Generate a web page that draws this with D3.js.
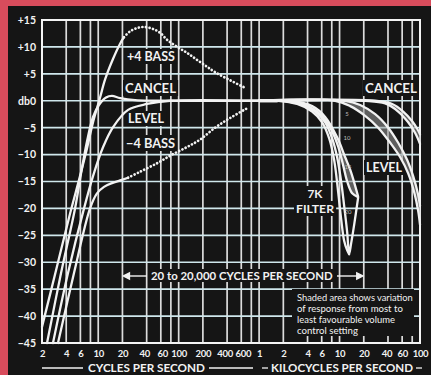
<!DOCTYPE html>
<html><head><meta charset="utf-8">
<script src="https://cdn.jsdelivr.net/npm/d3@7"></script>
<style>html,body{margin:0;padding:0;background:#151515;} svg{display:block}</style>
</head><body><svg id="c" width="431" height="375"></svg>
<script>
// ---------- data ----------
const yTickValues = [-45,-40,-35,-30,-25,-20,-15,-10,-5,0,5,10,15];
const yTickLabels = ["−45","−40","−35","−30","−25","−20","−15","−10","−5","db0","+5","+10","+15"];
const xTickValues = [2,4,6,10,20,40,60,100,200,400,600,1000,2000,4000,6000,10000,20000,40000,60000,100000];
const xTickLabels = ["2","4","6","10","20","40","60","100","200","400","600","1","2","4","6","10","20","40","60","100"];
const gridFreqs = [4,6,8,10,20,40,60,80,100,200,400,600,800,1000,2000,4000,6000,8000,10000,20000,40000,60000,80000];
const gridDb = [-40,-35,-30,-25,-20,-15,-10,-5,0,5,10];

// [frequency Hz, dB]
const plus4BassSolid = [[2,-42],[2.99,-31.5],[4.46,-21],[5.94,-14],[7.26,-8.8],[8.62,-4],[10.5,0.5],[12.2,4],[15.3,7.8],[18.7,10.6],[20.9,11.8]];
const plus4BassDotted = [[20.9,11.8],[24.9,12.9],[30.4,13.5],[36,13.7],[46.7,13.4],[59,12.6],[72,11.3],[96,10.0],[127,8.9],[169,7.6],[226,6.3],[284,5.3],[436,3.8],[670,2.4]];
const cancelLow = [[2.31,-45],[3.45,-32],[5.15,-20],[6.11,-13.5],[7.26,-7.5],[8.62,-3],[10.2,-0.8],[12.5,0.6],[14.8,0.9],[18.7,0.5],[28.7,0.1],[51,0],[1000,0]];
const levelLow = [[2.74,-45],[4.21,-32],[6.66,-20],[8.62,-14],[11.5,-8.6],[15.3,-4.9],[23.5,-1.7],[40.5,-0.6],[78,0],[1000,0]];
const minus4BassSolid = [[3.16,-45],[5.0,-32],[7.91,-20],[9.66,-17.2],[11.8,-16],[14.8,-15.3],[18.7,-14.8],[23.5,-14.3]];
const minus4BassDotted = [[23.5,-14.3],[33,-13.2],[54,-11.6],[83,-10],[127,-8.6],[185,-7.2],[284,-5],[436,-3.2],[709,-1.4]];

const filterNotch = [[1000,0],[1820,0],[3240,-0.6],[4980,-2],[6620,-4],[8090,-7],[9330,-10.5],[10470,-15],[11400,-19.5],[12450,-24.5],[13150,-28.5],[13930,-26.5],[15200,-23],[17020,-18]];
const filterSteep = [[1000,0],[1700,0],[2970,-0.6],[4560,-2],[6080,-4],[7430,-7],[8570,-11],[9620,-17],[10470,-22],[11400,-26],[12450,-27.8],[13150,-28.5]];
const filterB = [[1000,0],[2100,0],[3730,-0.8],[5740,-2.5],[7640,-5],[9620,-8.5],[11090,-12],[12450,-15],[14350,-17.2],[16560,-17.8]];
const filterC = [[1000,0],[2430,0],[4560,-1],[6620,-3],[9330,-6.8],[11750,-10.5],[13550,-12.8],[15630,-15.8],[17020,-17.8]];
const levelHighOuter = [[1000,0],[8810,0],[13550,-1],[20810,-2.8],[30200,-5],[42580,-7.8],[56760,-10.5],[71300,-13.5],[84700,-17],[94980,-20.5],[100000,-23]];
const levelHighInner = [[1000,0],[11750,0],[18030,-0.8],[27720,-2.5],[40240,-5],[53580,-7.8],[69340,-11],[82240,-14],[94980,-17.5],[100000,-19.5]];
const cancelHighA = [[1000,0],[20810,0],[36900,-0.5],[53580,-2],[71300,-4],[87140,-6],[100000,-8]];
const cancelHighB = [[1000,0],[27720,0],[45100,-0.6],[61800,-2],[80000,-3.8],[92260,-5.2],[100000,-6.2]];

// ---------- drawing ----------
const W = 431, H = 375;
const svg = d3.select("#c");
const RED = "#d84c5c", BLACK = "#151515", INK = "#f2f2f2";
const FONT = "Lato, 'Open Sans', sans-serif";

svg.append("rect").attr("width", W).attr("height", H).attr("fill", RED);
svg.append("rect").attr("x", 8).attr("y", 6).attr("width", W - 8).attr("height", H - 6).attr("fill", BLACK);

const x = d3.scaleLog().domain([2, 100000]).range([42, 420]);
const y = d3.scaleLinear().domain([-45, 15]).range([343, 20]);

// grid
const grid = svg.append("g");
grid.selectAll("line.v").data(gridFreqs).join("line")
  .attr("x1", d => x(d)).attr("x2", d => x(d)).attr("y1", y(15)).attr("y2", y(-45))
  .attr("stroke", "#dcdcdc").attr("stroke-width", 1.7);
grid.selectAll("line.h").data(gridDb).join("line")
  .attr("x1", x(2)).attr("x2", x(100000)).attr("y1", d => y(d)).attr("y2", d => y(d))
  .attr("stroke", "#cfe7ec").attr("stroke-width", 1.7);
grid.append("rect").attr("x", x(2)).attr("y", y(15)).attr("width", x(100000) - x(2)).attr("height", y(-45) - y(15))
  .attr("fill", "none").attr("stroke", "#f4f4f4").attr("stroke-width", 2);

const boxes = svg.append("g");
const curves = svg.append("g");
const texts = svg.append("g").attr("font-family", FONT).attr("fill", INK);

const line = d3.line().x(d => x(d[0])).y(d => y(d[1])).curve(d3.curveCatmullRom.alpha(0.5));

// shaded areas
function shade(a, b) {
  const pts = a.concat(b.slice().reverse());
  curves.append("path").attr("d", line(pts) + "Z").attr("fill", "#9a9a9a").attr("fill-opacity", 0.55).attr("stroke", "none");
}
shade(filterB.slice(3), filterC.slice(3));
shade(levelHighOuter.slice(1), levelHighInner.slice(1));
shade(cancelHighA.slice(1), cancelHighB.slice(1));

const solid = [plus4BassSolid, cancelLow, levelLow, minus4BassSolid, filterNotch, filterSteep, filterB, filterC,
  levelHighOuter, levelHighInner, cancelHighA, cancelHighB];
curves.selectAll("path.s").data(solid).join("path").attr("class", "s")
  .attr("d", line).attr("fill", "none").attr("stroke", INK).attr("stroke-width", 2.3).attr("stroke-linecap", "round");
curves.append("path").attr("d", line([[1000,0],[1700,0]])).attr("fill", "none").attr("stroke", INK).attr("stroke-width", 3.4);
curves.selectAll("path.d").data([plus4BassDotted, minus4BassDotted]).join("path").attr("class", "d")
  .attr("d", line).attr("fill", "none").attr("stroke", INK).attr("stroke-width", 2.7)
  .attr("stroke-linecap", "round").attr("stroke-dasharray", "0.1 3.5");

// axes
const yAxis = svg.append("g").attr("transform", `translate(${x(2)},0)`)
  .call(d3.axisLeft(y).tickValues(yTickValues).tickFormat((d, i) => yTickLabels[i]).tickSize(0).tickPadding(6));
yAxis.select(".domain").remove();
yAxis.selectAll("text").attr("font-family", FONT).attr("font-weight", 700).attr("font-size", 10.5).attr("fill", INK);

const xAxis = svg.append("g").attr("transform", `translate(0,${y(-45)})`)
  .call(d3.axisBottom(x).tickValues(xTickValues).tickFormat((d, i) => xTickLabels[i]).tickSize(0).tickPadding(7));
xAxis.select(".domain").remove();
xAxis.selectAll("text").attr("font-family", FONT).attr("font-weight", 700).attr("font-size", 9.5)
  .attr("letter-spacing", -0.3).attr("fill", INK)
  .attr("dx", (d, i) => d === 400 || d === 40 ? -2.5 : (d === 600 || d === 60) ? 1.5 : (d === 40000 ? -1.5 : 0));

// text helper
function label(str, xp, yp, opts = {}) {
  const t = texts.append("text").attr("x", xp).attr("y", yp).text(str)
    .attr("font-size", opts.size || 12).attr("font-weight", opts.weight || 700)
    .attr("text-anchor", opts.anchor || "start");
  if (opts.width) {
    const l = t.node().getComputedTextLength();
    t.attr("font-size", (opts.size || 12) * opts.width / l);
  }
  if (opts.box) {
    const b = t.node().getBBox();
    boxes.append("rect").attr("x", b.x - 2).attr("y", b.y).attr("width", b.width + 4).attr("height", b.height)
      .attr("fill", BLACK);
  }
  return t;
}

label("+4 BASS", 127, 61, {width: 48, box: true});
label("CANCEL", 125, 93, {width: 51, box: true});
label("LEVEL", 128, 123, {width: 36, box: true});
label("−4 BASS", 126, 148, {width: 49, box: true});
label("CANCEL", 365, 93, {width: 52, box: true});
label("LEVEL", 366, 172, {width: 36, box: true});
label("7K", 315, 198, {width: 15, anchor: "middle", box: true, size: 11});
label("FILTER", 315, 213, {width: 38, anchor: "middle", box: true, size: 11});

// small volume numbers
[["5", 347, 116], ["10", 347, 140], ["15", 348, 169], ["20", 348, 214]].forEach(d =>
  label(d[0], d[1], d[2], {size: 6, anchor: "middle", weight: 400}).attr("fill", "#bdbdbd"));

// arrow label
const arrowY = 276;
label("20 to 20,000 CYCLES PER SECOND", 151, 280, {width: 182, size: 10.5, box: true});
const ar = svg.append("g").attr("stroke", INK).attr("stroke-width", 1.4).attr("fill", INK);
ar.append("line").attr("x1", x(20) + 3).attr("x2", 147).attr("y1", arrowY).attr("y2", arrowY);
ar.append("path").attr("d", `M${x(20) + 1},${arrowY} l6,-3 l0,6 Z`);
ar.append("line").attr("x1", 337).attr("x2", x(20000) - 3).attr("y1", arrowY).attr("y2", arrowY);
ar.append("path").attr("d", `M${x(20000) - 1},${arrowY} l-6,-3 l0,6 Z`);

// note box
boxes.append("rect").attr("x", 292).attr("y", 289).attr("width", 122).attr("height", 47).attr("fill", BLACK);
const note = ["Shaded area shows variation", "of response from most to", "least favourable volume", "control setting"];
const noteW = [116, 106, 98, 61];
note.forEach((s, i) => label(s, 297, 301 + i * 11, {width: noteW[i], size: 8.5, weight: 400}));

// bottom titles
label("CYCLES PER SECOND", 146.5, 372, {width: 117, anchor: "middle", size: 11});
label("KILOCYCLES PER SECOND", 342, 372, {width: 142, anchor: "middle", size: 11});
const tl = svg.append("g").attr("stroke", INK).attr("stroke-width", 1.3);
[[42, 83], [209, 253], [262, 268], [416, 422]].forEach(s =>
  tl.append("line").attr("x1", s[0]).attr("x2", s[1]).attr("y1", 368).attr("y2", 368));
</script></body></html>
